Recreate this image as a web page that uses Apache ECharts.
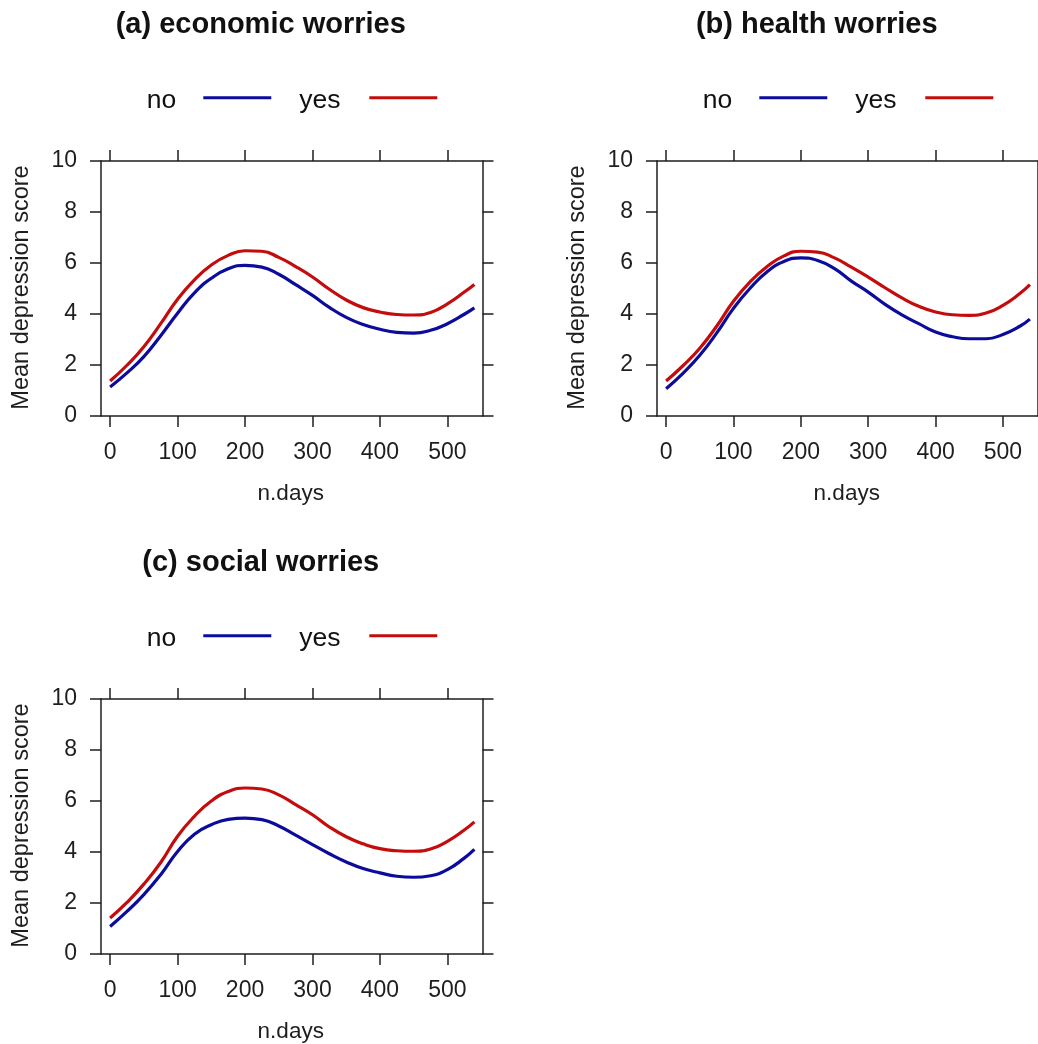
<!DOCTYPE html>
<html>
<head>
<meta charset="utf-8">
<title>Mean depression score by worries</title>
<script src="https://cdn.jsdelivr.net/npm/echarts@6/dist/echarts.min.js"></script>
<style>
  html, body { margin: 0; padding: 0; background: #ffffff; }
  #chart { width: 1038px; height: 1044px; }
</style>
</head>
<body>
<div id="chart"></div>
<script>
// Days since baseline at which the fitted curves are sampled
const days = [0, 25, 50, 75, 100, 125, 150, 175, 200, 225, 250, 275, 300, 325, 350, 375, 400, 425, 450, 475, 500, 525, 540];

// (a) economic worries
const econNo  = [1.14, 1.69, 2.33, 3.15, 4.03, 4.83, 5.40, 5.77, 5.91, 5.84, 5.56, 5.15, 4.73, 4.26, 3.87, 3.59, 3.40, 3.28, 3.25, 3.36, 3.62, 3.99, 4.24];
const econYes = [1.37, 1.99, 2.72, 3.62, 4.58, 5.34, 5.92, 6.30, 6.48, 6.46, 6.22, 5.86, 5.45, 4.97, 4.55, 4.25, 4.08, 3.98, 3.96, 4.06, 4.40, 4.86, 5.16];

// (b) health worries
const healthNo  = [1.07, 1.67, 2.38, 3.25, 4.22, 5.02, 5.66, 6.06, 6.20, 6.10, 5.78, 5.29, 4.86, 4.38, 3.97, 3.62, 3.29, 3.11, 3.03, 3.03, 3.20, 3.52, 3.80];
const healthYes = [1.37, 1.97, 2.66, 3.52, 4.50, 5.27, 5.86, 6.28, 6.46, 6.43, 6.20, 5.84, 5.45, 5.03, 4.63, 4.30, 4.08, 3.97, 3.95, 4.04, 4.34, 4.80, 5.15];

// (c) social worries
const socialNo  = [1.08, 1.67, 2.33, 3.11, 4.02, 4.70, 5.07, 5.28, 5.33, 5.27, 5.02, 4.66, 4.29, 3.93, 3.61, 3.35, 3.18, 3.05, 3.01, 3.07, 3.31, 3.76, 4.10];
const socialYes = [1.41, 2.02, 2.74, 3.59, 4.62, 5.40, 6.00, 6.37, 6.51, 6.47, 6.24, 5.86, 5.46, 4.98, 4.60, 4.32, 4.13, 4.05, 4.03, 4.12, 4.42, 4.86, 5.18];

// Tick labels
const xTicks = [0, 100, 200, 300, 400, 500];
const yTicks = [0, 2, 4, 6, 8, 10];

const panelTitles = ['(a) economic worries', '(b) health worries', '(c) social worries'];
const groupNames = ['no', 'yes'];
const panelSeries = [[econNo, econYes], [healthNo, healthYes], [socialNo, socialYes]];

// Layout of the three panels (plot box position in pixels)
const layout = [
  { left: 101, top: 161, width: 381.5, height: 255 },
  { left: 657, top: 161, width: 381.5, height: 255 },
  { left: 101, top: 699, width: 381.5, height: 255 }
];

const FONT = "'Liberation Sans', Arial, Helvetica, sans-serif";
const INK = '#1e1e1e';
const COLORS = ['#0c0c9c', '#c40c0c'];

const grids = [], xAxes = [], yAxes = [], series = [], graphics = [];

layout.forEach((box, i) => {
  grids.push({ left: box.left, top: box.top, width: box.width, height: box.height, show: false });

  const lineStyle = { color: INK, width: 1.5 };
  const tick = { show: true, length: 11, lineStyle: { color: INK, width: 1.5 }, customValues: xTicks };
  const yTick = { show: true, length: 11, lineStyle: { color: INK, width: 1.5 } };

  // bottom x axis with labels
  xAxes.push({
    type: 'value', gridIndex: i, position: 'bottom', min: -13.5, max: 552,
    axisLine: { show: true, onZero: false, lineStyle },
    axisTick: tick,
    axisLabel: { show: true, customValues: xTicks, margin: 25, fontSize: 23, fontFamily: FONT, color: INK },
    splitLine: { show: false }
  });
  // top x axis, ticks only
  xAxes.push({
    type: 'value', gridIndex: i, position: 'top', min: -13.5, max: 552,
    axisLine: { show: true, onZero: false, lineStyle },
    axisTick: tick,
    axisLabel: { show: false },
    splitLine: { show: false }
  });
  // left y axis with labels
  yAxes.push({
    type: 'value', gridIndex: i, position: 'left', min: 0, max: 10, interval: 2,
    axisLine: { show: true, onZero: false, lineStyle },
    axisTick: yTick,
    axisLabel: { show: true, margin: 24, fontSize: 23, fontFamily: FONT, color: INK,
                 customValues: yTicks },
    splitLine: { show: false }
  });
  // right y axis, ticks only
  yAxes.push({
    type: 'value', gridIndex: i, position: 'right', min: 0, max: 10, interval: 2,
    axisLine: { show: true, onZero: false, lineStyle },
    axisTick: yTick,
    axisLabel: { show: false },
    splitLine: { show: false }
  });

  panelSeries[i].forEach((vals, k) => {
    series.push({
      type: 'line',
      name: groupNames[k],
      xAxisIndex: i * 2,
      yAxisIndex: i * 2,
      data: days.map((d, j) => [d, vals[j]]),
      smooth: 0.5,
      showSymbol: false,
      lineStyle: { color: COLORS[k], width: 3.2 },
      itemStyle: { color: COLORS[k] },
      z: 3
    });
  });

  // panel heading, centred on the panel including its y-axis label area
  const cx = box.left + box.width / 2 - 31;
  graphics.push({
    type: 'text', x: cx, y: box.top - 136,
    style: { text: panelTitles[i], font: 'bold 29px ' + FONT, fill: '#111',
             align: 'center', verticalAlign: 'middle' }
  });

  // key: label followed by a line sample
  const keyY = box.top - 63.3;
  const keyX = box.left + 45.7;
  const keyItems = [
    { label: groupNames[0], tx: keyX, lx: keyX + 56.6 },
    { label: groupNames[1], tx: keyX + 152.6, lx: keyX + 222.6 }
  ];
  keyItems.forEach((it, k) => {
    graphics.push({
      type: 'text', x: it.tx, y: keyY + 3,
      style: { text: it.label, font: '26.5px ' + FONT, fill: '#111',
               align: 'left', verticalAlign: 'middle' }
    });
    graphics.push({
      type: 'line',
      shape: { x1: it.lx, y1: keyY, x2: it.lx + 68, y2: keyY },
      style: { stroke: COLORS[k], lineWidth: 3 }
    });
  });

  // axis titles
  graphics.push({
    type: 'text', x: box.left - 79, y: box.top + box.height / 2 - 1, rotation: Math.PI / 2,
    style: { text: 'Mean depression score', font: '23.5px ' + FONT, fill: INK,
             align: 'center', verticalAlign: 'middle' }
  });
  graphics.push({
    type: 'text', x: box.left + box.width / 2 - 1, y: box.top + box.height + 78,
    style: { text: 'n.days', font: '22.5px ' + FONT, fill: INK,
             align: 'center', verticalAlign: 'middle' }
  });
});

// each grid owns one bottom/top x axis pair and one left/right y axis pair
yAxes.forEach((ax, idx) => { ax.gridIndex = Math.floor(idx / 2); });
xAxes.forEach((ax, idx) => { ax.gridIndex = Math.floor(idx / 2); });

const chart = echarts.init(document.getElementById('chart'), null, { renderer: 'canvas' });
chart.setOption({
  animation: false,
  backgroundColor: '#ffffff',
  grid: grids,
  xAxis: xAxes,
  yAxis: yAxes,
  series: series,
  graphic: { elements: graphics }
});
</script>
</body>
</html>
